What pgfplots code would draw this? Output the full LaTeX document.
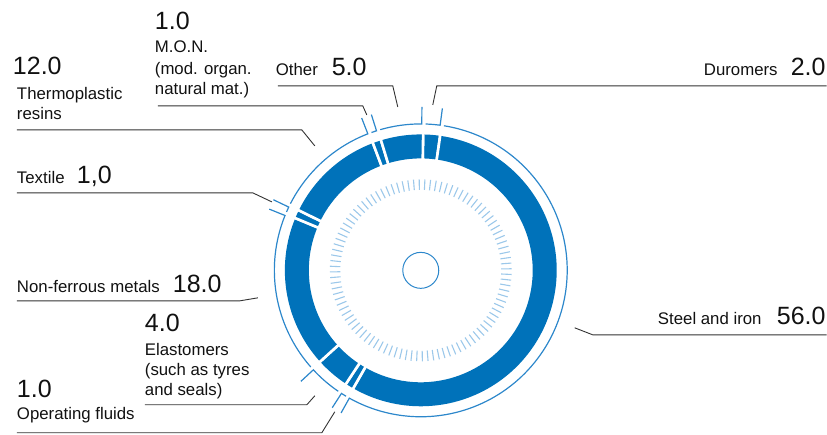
\documentclass[border=0pt]{standalone}
\usepackage{fontspec}
\setmainfont{Liberation Sans}
\usepackage{pgfplots}
\usepackage{pgfplotstable}
\pgfplotsset{compat=1.18}

\definecolor{ringblue}{HTML}{0072BA}
\definecolor{lineblue}{HTML}{2C87CB}
\definecolor{tickblue}{HTML}{9CC8EA}
\definecolor{leader}{HTML}{333333}
\definecolor{txt}{HTML}{111111}

% shares in percent, clockwise from the top
\pgfplotstableread{
name value
Duromers 2
Steel 56
Operating 1
Elastomers 4
NonFerrous 18
Textile 1
Thermoplastic 12
MON 1
Other 5
}\shares

\newcommand{\lab}{\fontsize{16.8}{20}\selectfont}
\newcommand{\num}{\fontsize{25}{28}\selectfont}

\begin{document}
\begin{tikzpicture}
\begin{axis}[
  x=1pt, y=1pt,
  xmin=0, xmax=827, ymin=0, ymax=435,
  hide axis, clip=false,
]
\path (axis cs:0,0) rectangle (axis cs:827,435);

% inner tick ring
\pgfplotsinvokeforeach{0,...,99}{
  \draw[tickblue, line width=1.1pt] (axis cs:421,164.5) ++(#1*3.6+1:80.5pt) -- ++(#1*3.6+1:10.5pt);
}
% small centre circle
\draw[lineblue, line width=1pt] (axis cs:421,164.5) circle[radius=18pt];

% ring segments
\pgfmathsetmacro\cur{89}
\pgfplotsforeachungrouped \i in {0,...,8}{%
  \pgfplotstablegetelem{\i}{value}\of\shares
  \pgfmathsetmacro\a{\cur}%
  \pgfmathsetmacro\b{\cur-3.6*\pgfplotsretval}%
  \pgfmathsetmacro\ao{\a-0.9}%
  \pgfmathsetmacro\bo{\b+0.6}%
  \edef\doit{%
    \noexpand\fill[ringblue] (axis cs:421,164.5) ++(\a:136pt) arc[start angle=\a, end angle=\b, radius=136pt] -- ++(\b:-24pt) arc[start angle=\b, end angle=\a, radius=112pt] -- cycle;
    \noexpand\draw[white, line width=2.6pt] (axis cs:421,164.5) ++(\a:108pt) -- ++(\a:32pt);
    \noexpand\draw[white, line width=2.6pt] (axis cs:421,164.5) ++(\b:108pt) -- ++(\b:32pt);
    \noexpand\draw[lineblue, line width=1.2pt] (axis cs:421,164.5) ++(\ao:146.5pt) arc[start angle=\ao, end angle=\bo, radius=146.5pt] -- ++(\bo:17pt);
  }\doit
  \let\cur\b
}

% leader lines
\begin{scope}[leader, line width=0.9pt]
\draw (axis cs:158,329) -- (axis cs:363,329) -- (axis cs:367,320);
\draw (axis cs:278,349) -- (axis cs:393,349) -- (axis cs:398,328);
\draw (axis cs:17,305) -- (axis cs:302,305) -- (axis cs:315,289);
\draw (axis cs:17,242) -- (axis cs:253,242) -- (axis cs:272,233);
\draw (axis cs:17,134) -- (axis cs:240,134) -- (axis cs:258,137);
\draw (axis cs:145,30) -- (axis cs:307,30) -- (axis cs:315,39);
\draw (axis cs:17,2) -- (axis cs:322,2) -- (axis cs:335,23);
\draw (axis cs:827,349) -- (axis cs:437,349) -- (axis cs:433,330);
\draw (axis cs:827,100) -- (axis cs:593,100) -- (axis cs:575,107);
\end{scope}

% labels
\begin{scope}[every node/.style={inner sep=0pt, outer sep=0pt, text=txt}]
\node[anchor=base west] at (axis cs:155,405) {\num 1.0};
\node[anchor=base west] at (axis cs:155,382) {\lab M.O.N.};
\node[anchor=base west] at (axis cs:155,360) {\lab (mod. organ.};
\node[anchor=base west] at (axis cs:155,340) {\lab natural mat.)};

\node[anchor=base west] at (axis cs:276,359) {\lab Other};
\node[anchor=base west] at (axis cs:332,359) {\num 5.0};

\node[anchor=base west] at (axis cs:13,360) {\num 12.0};
\node[anchor=base west] at (axis cs:17,335) {\lab Thermoplastic};
\node[anchor=base west] at (axis cs:17,315) {\lab resins};

\node[anchor=base west] at (axis cs:17,251) {\lab Textile};
\node[anchor=base west] at (axis cs:77,251) {\num 1,0};

\node[anchor=base west] at (axis cs:17,142) {\lab Non-ferrous metals};
\node[anchor=base west] at (axis cs:173,142) {\num 18.0};

\node[anchor=base west] at (axis cs:145,103) {\num 4.0};
\node[anchor=base west] at (axis cs:145,79) {\lab Elastomers};
\node[anchor=base west] at (axis cs:145,59) {\lab (such as tyres};
\node[anchor=base west] at (axis cs:145,39) {\lab and seals)};

\node[anchor=base west] at (axis cs:17,37) {\num 1.0};
\node[anchor=base west] at (axis cs:17,15) {\lab Operating fluids};

\node[anchor=base east] at (axis cs:826,359) {\num 2.0};
\node[anchor=base east] at (axis cs:778,359) {\lab Duromers};

\node[anchor=base east] at (axis cs:826,110) {\num 56.0};
\node[anchor=base east] at (axis cs:762,110) {\lab Steel and iron};
\end{scope}
\end{axis}
\end{tikzpicture}
\end{document}
